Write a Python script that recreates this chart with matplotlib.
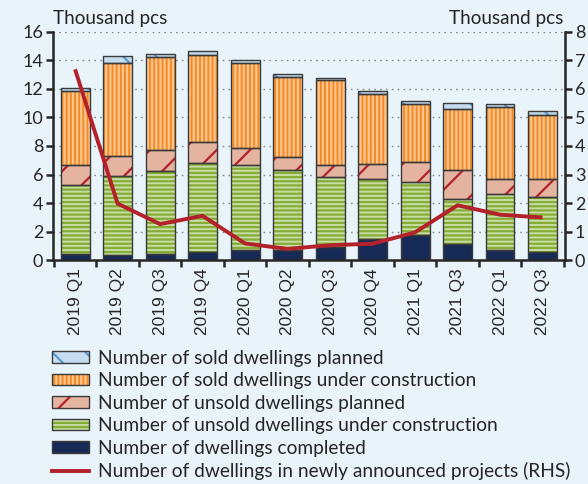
#!/usr/bin/env python3
"""
Dwelling stock by sales / construction status (stacked bars, LHS)
and dwellings in newly announced projects (line, RHS)
"""

import matplotlib
matplotlib.use('Agg')
import matplotlib.pyplot as plt
from matplotlib.patches import Patch
from matplotlib.lines import Line2D
from matplotlib.legend_handler import HandlerTuple
import numpy as np

# Quarters on the x axis
quarters = ['2019 Q1', '2019 Q2', '2019 Q3', '2019 Q4', '2020 Q1', '2020 Q2',
            '2020 Q3', '2020 Q4', '2021 Q1', '2021 Q3', '2022 Q1', '2022 Q3']

# Stacked components, thousand pcs (bottom to top)
completed = [0.42, 0.35, 0.42, 0.55, 0.71, 0.73, 0.94, 1.48, 1.72, 1.13, 0.72, 0.56]
unsold_under_construction = [4.87, 5.52, 5.80, 6.23, 5.93, 5.61, 4.91, 4.23, 3.75, 3.13, 3.91, 3.84]
unsold_planned = [1.35, 1.40, 1.50, 1.52, 1.24, 0.89, 0.82, 1.00, 1.38, 2.03, 1.08, 1.26]
sold_under_construction = [5.24, 6.55, 6.50, 6.06, 5.94, 5.59, 5.94, 4.94, 4.07, 4.28, 5.00, 4.54]
sold_planned = [0.21, 0.52, 0.26, 0.33, 0.24, 0.21, 0.14, 0.19, 0.26, 0.47, 0.26, 0.26]

# Newly announced projects, thousand pcs (RHS)
newly_announced = [6.69, 1.98, 1.26, 1.55, 0.58, 0.39, 0.52, 0.57, 0.97, 1.92, 1.59, 1.49]

BG = '#e8f3fa'
EDGE = '#3a3a3a'
TEXT = '#262626'
LINE_RED = '#b3222a'

plt.rcParams['font.family'] = ['Lato', 'DejaVu Sans']
plt.rcParams['hatch.linewidth'] = 1.6


def main():
    fig = plt.figure(figsize=(5.88, 4.84), dpi=100, facecolor=BG)
    ax = fig.add_axes([0.0901, 0.4628, 0.8709, 0.4711])
    ax.set_facecolor(BG)

    x = np.arange(len(quarters))
    width = 0.68

    # (values, face colour, hatch colour, hatch pattern, legend label)
    layers = [
        (completed, '#172a55', '#172a55', None, 'Number of dwellings completed'),
        (unsold_under_construction, '#c8dda4', '#84ac36', '----',
         'Number of unsold dwellings under construction'),
        (unsold_planned, '#e5b4a0', '#b3222a', '/', 'Number of unsold dwellings planned'),
        (sold_under_construction, '#f58a20', '#fcc594', '||||',
         'Number of sold dwellings under construction'),
        (sold_planned, '#c6ddf0', '#5b9bd0', '\\', 'Number of sold dwellings planned'),
    ]

    bottom = np.zeros(len(quarters))
    handles = {}
    for vals, face, hcol, hatch, label in layers:
        vals = np.array(vals)
        ax.bar(x, vals, width, bottom=bottom, color=face, edgecolor=hcol,
               hatch=hatch, linewidth=0, zorder=2)
        ax.bar(x, vals, width, bottom=bottom, fill=False, edgecolor=EDGE,
               linewidth=1.0, zorder=3)
        bottom += vals
        filled = Patch(facecolor=face, edgecolor=hcol, hatch=hatch, linewidth=0)
        outline = Patch(fill=False, edgecolor=EDGE, linewidth=1.0)
        handles[label] = (filled, outline)

    ax.set_xlim(-0.52, len(quarters) - 0.47)
    ax.set_ylim(0, 16)
    ax.set_yticks(np.arange(0, 17, 2))
    ax.set_xticks(x)
    ax.set_xticklabels(quarters, rotation=90, family=['Liberation Sans'], fontsize=12.5, color=TEXT)
    ax.set_xticks(np.arange(-0.5, len(quarters), 1), minor=True)
    ax.tick_params(axis='x', which='major', length=0, pad=6)
    ax.tick_params(axis='x', which='minor', length=5, width=1.8, color=TEXT, direction='out')
    ax.tick_params(axis='y', length=5, width=1.8, color=TEXT, labelsize=13, labelcolor=TEXT, pad=2)

    ax.yaxis.grid(True, linestyle=(0, (1.2, 3)), color='#8a8a8a', linewidth=1.0, zorder=0)
    ax.set_axisbelow(True)

    for side in ['top', 'right']:
        ax.spines[side].set_visible(False)
    for side in ['left', 'bottom']:
        ax.spines[side].set_linewidth(1.8)
        ax.spines[side].set_color(TEXT)

    # Right hand scale for the newly announced projects
    ax2 = ax.twinx()
    ax2.set_ylim(0, 8)
    ax2.set_yticks(np.arange(0, 9, 1))
    ax2.plot(x, newly_announced, color=LINE_RED, linewidth=2.8, solid_capstyle='butt', zorder=5)
    ax2.tick_params(axis='y', length=5, width=1.8, color=TEXT, labelsize=13, labelcolor=TEXT, pad=2)
    for side in ['top', 'left', 'bottom']:
        ax2.spines[side].set_visible(False)
    ax2.spines['right'].set_linewidth(1.8)
    ax2.spines['right'].set_color(TEXT)

    fig.text(0.090, 0.9504, 'Thousand pcs', fontsize=13.6, color=TEXT, va='baseline', ha='left')
    fig.text(0.9575, 0.9504, 'Thousand pcs', fontsize=13.6, color=TEXT, va='baseline', ha='right')

    order = ['Number of sold dwellings planned',
             'Number of sold dwellings under construction',
             'Number of unsold dwellings planned',
             'Number of unsold dwellings under construction',
             'Number of dwellings completed']
    leg_handles = [handles[k] for k in order]
    leg_labels = list(order)
    leg_handles.append(Line2D([], [], color=LINE_RED, linewidth=2.8))
    leg_labels.append('Number of dwellings in newly announced projects (RHS)')

    fig.legend(leg_handles, leg_labels, loc='upper left', bbox_to_anchor=(0.088, 0.2776),
               frameon=False, fontsize=13.8, labelcolor=TEXT,
               handler_map={tuple: HandlerTuple(ndivide=1, pad=0)},
               handlelength=1.95, handleheight=0.55, handletextpad=0.45,
               labelspacing=0.29, borderaxespad=0, borderpad=0)

    fig.savefig('out.png', dpi=100, facecolor=BG)
    plt.close(fig)


if __name__ == '__main__':
    main()
